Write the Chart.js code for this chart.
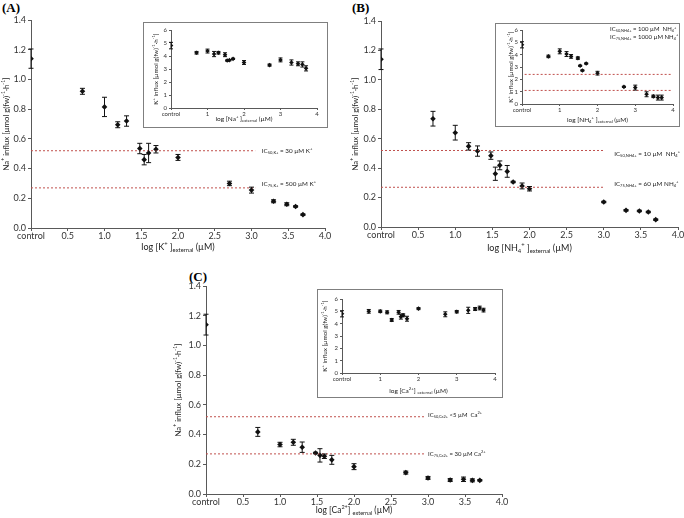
<!DOCTYPE html>
<html>
<head>
<meta charset="utf-8">
<script src="https://cdn.jsdelivr.net/npm/chart.js@4.4.1/dist/chart.umd.min.js"></script>
<style>
  html, body { margin: 0; padding: 0; background: #fff; width: 684px; height: 518px; overflow: hidden; }
  .pane { position: absolute; }
  .inset { position: absolute; border: 1px solid #7f7f7f; background: #fff; box-sizing: border-box; }
  .tag { position: absolute; font: bold 13px "Liberation Serif", serif; color: #000; }
  canvas { display: block; }
</style>
</head>
<body>
<div class="tag" style="left:2px;top:0px">(A)</div>
<div class="tag" style="left:352px;top:0px">(B)</div>
<div class="tag" style="left:189px;top:269px">(C)</div>

<div class="pane" style="left:0;top:0"><canvas id="mainA" width="340" height="260"></canvas></div>
<div class="pane" style="left:340px;top:0"><canvas id="mainB" width="350" height="260"></canvas></div>
<div class="pane" style="left:140px;top:260px"><canvas id="mainC" width="400" height="258"></canvas></div>

<div class="inset" style="left:143px;top:22px;width:185px;height:106px"><canvas id="insetA" width="183" height="104"></canvas></div>
<div class="inset" style="left:495px;top:23px;width:185px;height:104px"><canvas id="insetB" width="183" height="102"></canvas></div>
<div class="inset" style="left:317px;top:289px;width:186px;height:109px"><canvas id="insetC" width="184" height="107"></canvas></div>

<script>
// log10 of external concentration (µM); 0 = control
const logConc = [0, 0.7, 1.0, 1.18, 1.3, 1.48, 1.54, 1.6, 1.7, 2.0, 2.7, 3.0, 3.3, 3.48, 3.6, 3.7];
const logConcNH4 = [0, 0.7, 1.0, 1.18, 1.3, 1.48, 1.54, 1.6, 1.7, 1.78, 1.9, 2.0, 3.0, 3.3, 3.48, 3.6, 3.7];

// (A) K+ treatment
const naInfluxK = [1.14, 0.92, 0.815, 0.695, 0.72, 0.535, 0.46, 0.505, 0.53, 0.475, 0.30, 0.255, 0.18, 0.16, 0.145, 0.09];
const naInfluxKErr = [0.065, 0.02, 0.065, 0.02, 0.035, 0.035, 0.035, 0.065, 0.025, 0.02, 0.015, 0.02, 0.01, 0.01, 0.005, 0.005];
const kInfluxNa = [4.8, 4.25, 4.38, 4.15, 4.25, 4.1, 3.65, 3.68, 3.78, 3.5, 3.3, 3.7, 3.5, 3.4, 3.35, 3.05];
const kInfluxNaErr = [0.25, 0.1, 0.15, 0.2, 0.1, 0.15, 0.05, 0.05, 0.05, 0.15, 0.08, 0.15, 0.2, 0.15, 0.2, 0.2];

// (B) NH4+ treatment
const naInfluxNH4 = [1.14, 0.736, 0.641, 0.548, 0.516, 0.485, 0.362, 0.419, 0.378, 0.306, 0.279, 0.26, 0.17, 0.113, 0.109, 0.102, 0.05];
const naInfluxNH4Err = [0.07, 0.05, 0.05, 0.025, 0.035, 0.025, 0.045, 0.03, 0.04, 0.005, 0.02, 0.015, 0.005, 0.005, 0.005, 0.005, 0.005];
const kInfluxNH4 = [4.8, 3.86, 4.27, 4.05, 3.86, 3.72, 3.1, 2.72, 3.28, 2.5, 1.39, 1.33, 0.79, 0.62, 0.52, 0.52];
const kInfluxNH4Err = [0.25, 0.1, 0.2, 0.2, 0.15, 0.1, 0.05, 0.05, 0.05, 0.15, 0.05, 0.2, 0.2, 0.1, 0.2, 0.2];

// (C) Ca2+ treatment
const naInfluxCa = [1.14, 0.418, 0.333, 0.348, 0.315, 0.276, 0.26, 0.254, 0.23, 0.184, 0.144, 0.108, 0.094, 0.099, 0.092, 0.092];
const naInfluxCaErr = [0.07, 0.03, 0.015, 0.02, 0.035, 0.005, 0.045, 0.015, 0.03, 0.02, 0.01, 0.01, 0.01, 0.015, 0.01, 0.005];
const kInfluxCa = [4.8, 5.0, 5.0, 4.92, 4.3, 4.92, 4.57, 4.68, 4.4, 5.22, 4.76, 4.97, 5.08, 5.19, 5.27, 5.1];
const kInfluxCaErr = [0.25, 0.15, 0.1, 0.12, 0.12, 0.15, 0.2, 0.12, 0.2, 0.08, 0.2, 0.1, 0.25, 0.12, 0.15, 0.15];

// IC reference levels
const naIC50 = 0.52, naIC75 = 0.27;
const kIC50NH4 = 2.4, kIC75NH4 = 1.1;

const FONT = 'Lato, "Liberation Sans", sans-serif';
const RED = '#c0504d';

function richText(ctx, segs, size, align) {
  const sz = m => (m ? size * 0.65 : size);
  let w = 0;
  segs.forEach(([t, m]) => { ctx.font = `${sz(m)}px ${FONT}`; w += ctx.measureText(t).width; });
  let x = align === 'center' ? -w / 2 : align === 'right' ? -w : 0;
  ctx.fillStyle = '#222';
  ctx.textBaseline = 'middle';
  segs.forEach(([t, m]) => {
    ctx.font = `${sz(m)}px ${FONT}`;
    const dy = m === 'sub' ? size * 0.3 : m === 'sup' ? -size * 0.35 : 0;
    ctx.fillText(t, x, dy);
    x += ctx.measureText(t).width;
  });
}

function textLayer(items) {
  return {
    id: 'textLayer',
    afterDraw(chart) {
      const { ctx, chartArea: a, scales } = chart;
      items.forEach(it => {
        let x, y;
        if (it.kind === 'ytitle') { x = a.left + it.dx; y = (a.top + a.bottom) / 2; }
        else if (it.kind === 'xtitle') { x = (a.left + a.right) / 2; y = a.bottom + it.dy; }
        else { x = scales.x.getPixelForValue(it.x); y = scales.y.getPixelForValue(it.y) + (it.dy || 0); }
        ctx.save();
        ctx.translate(x, y);
        if (it.kind === 'ytitle') ctx.rotate(-Math.PI / 2);
        richText(ctx, it.segs, it.size, it.align || 'center');
        ctx.restore();
      });
    }
  };
}

const errorBars = {
  id: 'errorBars',
  afterDatasetsDraw(chart) {
    const { ctx } = chart;
    const ys = chart.scales.y;
    chart.data.datasets.forEach((ds, i) => {
      if (!ds.errors) return;
      const meta = chart.getDatasetMeta(i);
      ctx.save();
      ctx.strokeStyle = '#111';
      ctx.lineWidth = 1;
      meta.data.forEach((pt, j) => {
        const e = ds.errors[j];
        const v = ds.data[j].y;
        const top = ys.getPixelForValue(v + e), bot = ys.getPixelForValue(v - e);
        const c = ds.cap;
        ctx.beginPath();
        ctx.moveTo(pt.x, top); ctx.lineTo(pt.x, bot);
        ctx.moveTo(pt.x - c, top); ctx.lineTo(pt.x + c, top);
        ctx.moveTo(pt.x - c, bot); ctx.lineTo(pt.x + c, bot);
        ctx.stroke();
      });
      ctx.restore();
    });
  }
};

function panel(id, o) {
  const datasets = o.refLines.map(r => ({
    data: [{ x: r.from, y: r.y }, { x: r.to, y: r.y }],
    showLine: true, borderColor: RED, borderWidth: 1, borderDash: [2, 2], pointRadius: 0
  }));
  datasets.push({
    data: o.x.map((x, i) => ({ x, y: o.y[i] })),
    errors: o.err, cap: o.cap,
    pointStyle: 'rectRot', pointRadius: o.r, backgroundColor: '#111', borderColor: '#111', borderWidth: 0
  });
  const axisLine = { color: '#595959', width: 1 };
  const grid = { drawOnChartArea: false, drawTicks: true, tickLength: o.tl, color: '#595959' };
  return new Chart(document.getElementById(id), {
    type: 'scatter',
    data: { datasets },
    options: {
      responsive: false, animation: false, events: [], devicePixelRatio: 1,
      layout: { padding: o.pad },
      plugins: { legend: { display: false }, tooltip: { enabled: false } },
      scales: {
        x: {
          type: 'linear', min: 0, max: 4,
          afterFit: s => { s.height = o.xH; },
          border: axisLine, grid,
          ticks: {
            stepSize: o.xStep, autoSkip: false, maxRotation: 0, padding: 0, color: '#333',
            font: { family: FONT, size: o.fs },
            callback: v => (v === 0 ? 'control' : o.xStep < 1 ? v.toFixed(1) : String(v))
          }
        },
        y: {
          min: 0, max: o.yMax,
          afterFit: s => { s.width = o.yW; },
          border: axisLine, grid,
          ticks: {
            stepSize: o.yStep, padding: 2, color: '#333',
            font: { family: FONT, size: o.fs },
            callback: v => (o.yStep < 1 ? v.toFixed(1) : String(v))
          }
        }
      }
    },
    plugins: [errorBars, textLayer(o.texts)]
  });
}

const naTitle = [['Na'], ['+', 'sup'], [' influx [µmol g(fw)'], ['-1', 'sup'], ['·h'], ['-1', 'sup'], [']']];
const kTitle = [['K'], ['+', 'sup'], [' influx [µmol g(fw)'], ['-1', 'sup'], ['·h'], ['-1', 'sup'], [']']];
const xK = [['log [K'], ['+', 'sup'], [' ]'], ['external', 'sub'], [' (µM)']];
const xNa = [['log [Na'], ['+', 'sup'], [' ]'], ['external', 'sub'], [' (µM)']];
const xNH4 = [['log [NH'], ['4', 'sub'], ['+', 'sup'], [' ]'], ['external', 'sub'], [' (µM)']];
const xCa = [['log [Ca'], ['2+', 'sup'], ['] '], ['external', 'sub'], [' (µM)']];

const mainOpts = { yMax: 1.4, yStep: 0.2, xStep: 0.5, fs: 9, tl: 3, r: 2.8, cap: 2.5 };
const insetOpts = { yMax: 6, yStep: 1, xStep: 1, fs: 6, tl: 2, r: 2.3, cap: 2 };

panel('mainA', Object.assign({}, mainOpts, {
  x: logConc, y: naInfluxK, err: naInfluxKErr,
  yW: 31, xH: 32, pad: { left: 0, right: 15, top: 20, bottom: 0 },
  refLines: [{ y: naIC50, from: 0, to: 3.05 }, { y: naIC75, from: 0, to: 3.05 }],
  texts: [
    { kind: 'ytitle', dx: -25, segs: naTitle, size: 7.8 },
    { kind: 'xtitle', dy: 19, segs: xK, size: 9 },
    { x: 3.14, y: naIC50, segs: [['IC'], ['50,K+', 'sub'], [' = 30 µM K'], ['+', 'sup']], size: 6.3, align: 'left' },
    { x: 3.14, y: naIC75, dy: -4, segs: [['IC'], ['75,K+', 'sub'], [' = 500 µM K'], ['+', 'sup']], size: 6.3, align: 'left' }
  ]
}));

panel('mainB', Object.assign({}, mainOpts, {
  x: logConcNH4, y: naInfluxNH4, err: naInfluxNH4Err,
  yW: 41, xH: 33, pad: { left: 0, right: 12, top: 21, bottom: 0 },
  refLines: [{ y: naIC50, from: 0, to: 2.99 }, { y: naIC75, from: 0, to: 2.99 }],
  texts: [
    { kind: 'ytitle', dx: -26, segs: naTitle, size: 7.8 },
    { kind: 'xtitle', dy: 21, segs: xNH4, size: 9 },
    { x: 3.14, y: naIC50, dy: 3, segs: [['IC'], ['50,NH4+', 'sub'], [' = 10 µM  NH'], ['4', 'sub'], ['+', 'sup']], size: 6.3, align: 'left' },
    { x: 3.14, y: naIC75, dy: -3, segs: [['IC'], ['75,NH4+', 'sub'], [' = 60 µM NH'], ['4', 'sub'], ['+', 'sup']], size: 6.3, align: 'left' }
  ]
}));

panel('mainC', Object.assign({}, mainOpts, {
  x: logConc, y: naInfluxCa, err: naInfluxCaErr,
  yW: 66, xH: 24, pad: { left: 0, right: 38, top: 26, bottom: 0 },
  refLines: [{ y: naIC50, from: 0, to: 2.96 }, { y: naIC75, from: 0, to: 2.96 }],
  texts: [
    { kind: 'ytitle', dx: -28, segs: naTitle, size: 7.8 },
    { kind: 'xtitle', dy: 16.5, segs: xCa, size: 8.5 },
    { x: 3.0, y: naIC50, dy: -2, segs: [['IC'], ['50,Ca2+', 'sub'], [' <5 µM  Ca'], ['2+', 'sup']], size: 6, align: 'left' },
    { x: 3.0, y: naIC75, segs: [['IC'], ['75,Ca2+', 'sub'], [' = 30 µM Ca'], ['2+', 'sup']], size: 6, align: 'left' }
  ]
}));

panel('insetA', Object.assign({}, insetOpts, {
  x: logConc, y: kInfluxNa, err: kInfluxNaErr,
  yW: 27, xH: 19, pad: { left: 0, right: 10, top: 7, bottom: 0 },
  refLines: [],
  texts: [
    { kind: 'ytitle', dx: -15, segs: kTitle, size: 6.3 },
    { kind: 'xtitle', dy: 10.5, segs: xNa, size: 6.5 }
  ]
}));

panel('insetB', Object.assign({}, insetOpts, {
  x: logConc, y: kInfluxNH4, err: kInfluxNH4Err,
  yW: 26, xH: 22, pad: { left: 0, right: 6, top: 6, bottom: 0 },
  refLines: [{ y: kIC50NH4, from: 0.07, to: 3.97 }, { y: kIC75NH4, from: 0.07, to: 3.97 }],
  texts: [
    { kind: 'ytitle', dx: -11, segs: kTitle, size: 6.3 },
    { kind: 'xtitle', dy: 15.5, segs: xNH4, size: 6.5 },
    { x: 2.33, y: 6.05, segs: [['IC'], ['50,NH4+', 'sub'], [' = 100 µM  NH'], ['4', 'sub'], ['+', 'sup']], size: 6, align: 'left' },
    { x: 2.33, y: 5.43, segs: [['IC'], ['75,NH4+', 'sub'], [' = 1000 µM NH'], ['4', 'sub'], ['+', 'sup']], size: 6, align: 'left' }
  ]
}));

panel('insetC', Object.assign({}, insetOpts, {
  x: logConc, y: kInfluxCa, err: kInfluxCaErr,
  yW: 24, xH: 24, pad: { left: 0, right: 7, top: 9, bottom: 0 },
  refLines: [],
  texts: [
    { kind: 'ytitle', dx: -17, segs: kTitle, size: 6.3 },
    { kind: 'xtitle', dy: 18, segs: xCa, size: 6.5 }
  ]
}));
</script>
</body>
</html>
